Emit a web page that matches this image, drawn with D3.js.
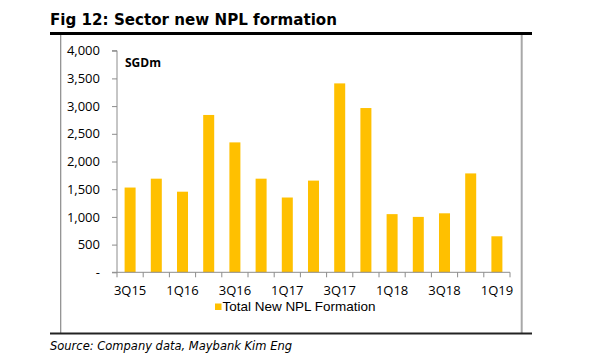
<!DOCTYPE html>
<html>
<head>
<meta charset="utf-8">
<script src="https://cdn.jsdelivr.net/npm/d3@7"></script>
<style>
  html, body { margin: 0; padding: 0; background: #fff; }
  svg { display: block; }
</style>
</head>
<body>
<svg id="chart" width="599" height="360"></svg>
<script>
const categories = ["3Q15","4Q15","1Q16","2Q16","3Q16","4Q16","1Q17","2Q17","3Q17","4Q17","1Q18","2Q18","3Q18","4Q18","1Q19"];
const npl = [1530, 1690, 1455, 2840, 2345, 1690, 1350, 1655, 3410, 2965, 1050, 1000, 1065, 1785, 650];
const yTicks = [0, 500, 1000, 1500, 2000, 2500, 3000, 3500, 4000];
const xLabels = ["3Q15","1Q16","3Q16","1Q17","3Q17","1Q18","3Q18","1Q19"];
const seriesName = "Total New NPL Formation";
const titleText = "Fig 12: Sector new NPL formation";
const unitText = "SGDm";
const sourceText = "Source: Company data, Maybank Kim Eng";

const svg = d3.select("#chart");
const plot = {left: 117, right: 510, top: 50.7, bottom: 272.3};

const x = d3.scaleBand().domain(categories).range([plot.left, plot.right])
  .paddingInner(0.58).paddingOuter(0.29);
const y = d3.scaleLinear().domain([0, 4000]).range([plot.bottom, plot.top]);

// Title
svg.append("text").attr("x", 50).attr("y", 25)
  .attr("font-family", "DejaVu Sans").attr("font-weight", "bold").attr("font-size", 15)
  .attr("fill", "#000").attr("textLength", 287).attr("lengthAdjust", "spacingAndGlyphs")
  .text(titleText);

// Top rule
svg.append("rect").attr("x", 50).attr("y", 32).attr("width", 482).attr("height", 3).attr("fill", "#000");
// Box borders
svg.append("line").attr("x1", 60.7).attr("x2", 60.7).attr("y1", 35).attr("y2", 333)
  .attr("stroke", "#8a8a8a").attr("stroke-width", 1.2);
svg.append("line").attr("x1", 521.7).attr("x2", 521.7).attr("y1", 35).attr("y2", 333)
  .attr("stroke", "#a8a8a8").attr("stroke-width", 2);
// Bottom rule
svg.append("rect").attr("x", 50).attr("y", 332.5).attr("width", 482).attr("height", 2).attr("fill", "#222");

// Bars
svg.append("g").selectAll("rect").data(categories).join("rect")
  .attr("x", d => x(d))
  .attr("width", x.bandwidth())
  .attr("y", (d, i) => y(npl[i]))
  .attr("height", (d, i) => y(0) - y(npl[i]))
  .attr("fill", "#FFC000");

// Y axis
const yAxis = d3.axisLeft(y).tickValues(yTicks).tickSize(5).tickPadding(12)
  .tickFormat(d => d === 0 ? "-" : d3.format(",")(d));
const gy = svg.append("g").attr("transform", `translate(${plot.left},0)`).call(yAxis);
gy.select(".domain").attr("stroke", "#8c8c8c").attr("d", `M-5,${plot.top}H0V${plot.bottom}`);
gy.selectAll(".tick line").attr("stroke", "#8c8c8c");
gy.selectAll(".tick text").attr("font-family", "Open Sans").attr("font-size", 13).attr("fill", "#000");

// X axis (labels at category centres, every second quarter)
const xAxis = d3.axisBottom(x).tickValues(xLabels).tickSize(0).tickPadding(13);
const gx = svg.append("g").attr("transform", `translate(0,${plot.bottom})`).call(xAxis);
gx.select(".domain").attr("stroke", "#8c8c8c").attr("d", `M${plot.left - 5},0H${plot.right}`);
gx.selectAll(".tick text").attr("font-family", "Open Sans").attr("font-size", 13).attr("fill", "#000");

// Category boundary ticks
const bounds = categories.map(d => x(d) - x.step() * x.paddingInner() / 2);
bounds.push(plot.right);
gx.append("g").selectAll("line").data(bounds).join("line")
  .attr("x1", d => d).attr("x2", d => d).attr("y1", 0).attr("y2", 5)
  .attr("stroke", "#8c8c8c");

// Unit label
svg.append("text").attr("x", 125).attr("y", 67.3)
  .attr("font-family", "Open Sans").attr("font-weight", "bold").attr("font-size", 12)
  .attr("fill", "#000").text(unitText);

// Legend
svg.append("rect").attr("x", 215).attr("y", 303.5).attr("width", 6.5).attr("height", 6.5).attr("fill", "#FFC000");
svg.append("text").attr("x", 222.5).attr("y", 311)
  .attr("font-family", "Liberation Sans").attr("font-size", 13).attr("fill", "#000")
  .attr("textLength", 153).attr("lengthAdjust", "spacingAndGlyphs")
  .text(seriesName);

// Source
svg.append("text").attr("x", 50).attr("y", 350)
  .attr("font-family", "DejaVu Sans").attr("font-style", "italic").attr("font-size", 12.5)
  .attr("fill", "#000").attr("textLength", 242).attr("lengthAdjust", "spacingAndGlyphs")
  .text(sourceText);
</script>
</body>
</html>
